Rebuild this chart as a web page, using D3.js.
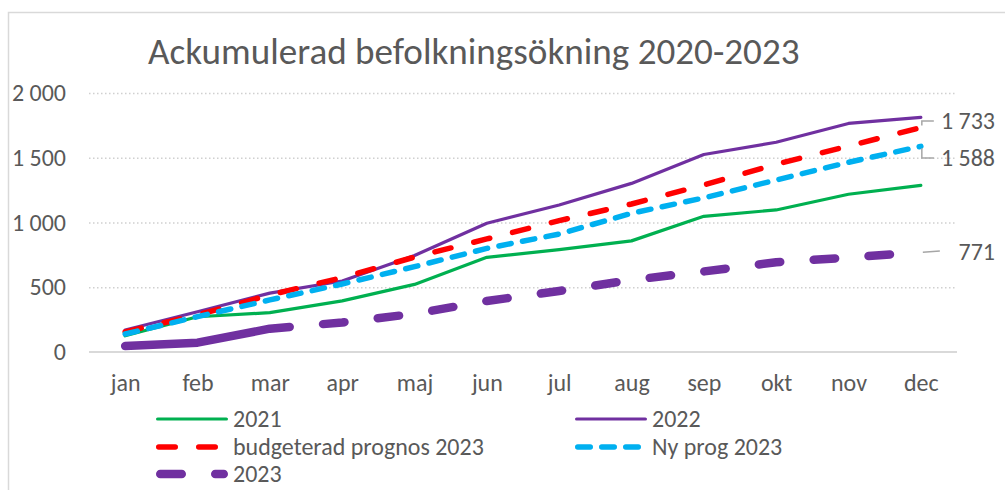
<!DOCTYPE html>
<html>
<head>
<meta charset="utf-8">
<script src="https://cdn.jsdelivr.net/npm/d3@7"></script>
<style>
  html, body { margin: 0; padding: 0; background: #fff; }
  svg { display: block; }
  text { font-family: Carlito, Calibri, Lato, "Open Sans", sans-serif; fill: #595959; }
</style>
</head>
<body>
<svg id="chart" width="1005" height="490"></svg>
<script>
const title = "Ackumulerad befolkningsökning 2020-2023";
const months = ["jan","feb","mar","apr","maj","jun","jul","aug","sep","okt","nov","dec"];
const yTicks = [0, 500, 1000, 1500, 2000];
const seriesNames = ["2021", "2022", "budgeterad prognos 2023", "Ny prog 2023", "2023"];
const s2021   = [125, 272, 304, 395, 522, 731, 790, 858, 1048, 1097, 1218, 1287];
const s2022   = [170, 311, 455, 548, 745, 994, 1135, 1302, 1525, 1620, 1765, 1812];
const sBudget = [155, 286, 440, 574, 733, 873, 1014, 1143, 1290, 1450, 1590, 1733];
const sNyProg = [139, 273, 402, 525, 659, 800, 911, 1071, 1190, 1328, 1465, 1588];
const s2023   = [46, 72, 180, 228, 295, 394, 471, 556, 622, 693, 729, 771];

const locale = d3.formatLocale({decimal: ",", thousands: "\u00a0", grouping: [3], currency: ["", " kr"]});
const fmt = locale.format(",d");

const svg = d3.select("#chart");

// outer frame
svg.append("rect").attr("x", 8.5).attr("y", 12.5).attr("width", 1100).attr("height", 600)
  .attr("fill", "none").attr("stroke", "#d9d9d9").attr("stroke-width", 1.5);

const x = d3.scalePoint().domain(months).range([89, 957]).padding(0.5);
const y = d3.scaleLinear().domain([0, 2000]).range([352, 93]);

// gridlines
const grid = svg.append("g").attr("transform", "translate(89,0)")
  .call(d3.axisLeft(y).tickValues(yTicks.filter(v => v > 0)).tickSize(-868).tickFormat(""));
grid.select(".domain").remove();
grid.selectAll(".tick line").attr("stroke", "#d0d0d0").attr("stroke-width", 1.3).attr("stroke-dasharray", "1.5,2.5");

// y labels
const yAxis = svg.append("g").attr("transform", "translate(66,0)")
  .call(d3.axisLeft(y).tickValues(yTicks).tickSize(0).tickPadding(0).tickFormat(fmt));
yAxis.select(".domain").remove();
yAxis.selectAll("text").attr("class", "lbl").attr("text-anchor", "end");

// x axis line
const xAxis = svg.append("g").attr("transform", `translate(0,${y(0)})`)
  .call(d3.axisBottom(x).tickSize(0).tickPadding(22));
xAxis.select(".domain").attr("d", "M89,0H957").attr("stroke", "#d9d9d9").attr("stroke-width", 2);
xAxis.selectAll("text").attr("class", "lbl");

// series
function dashList(first, dash, gap, n) {
  const arr = [first, gap];
  for (let i = 0; i < n; i++) arr.push(dash, gap);
  return arr.join(",");
}
const series = [
  {name: seriesNames[0], values: s2021, color: "#00b050", width: 3.2, dash: null},
  {name: seriesNames[1], values: s2022, color: "#7030a0", width: 3.2, dash: null},
  {name: seriesNames[2], values: sBudget, color: "#ff0000", width: 5.5, dash: "16.5,23.5"},
  {name: seriesNames[3], values: sNyProg, color: "#00b0f0", width: 5.5, dash: "12.5,11.5"},
  {name: seriesNames[4], values: s2023, color: "#7030a0", width: 8.5, dash: dashList(166, 21.5, 33.5, 30)}
];
const line = d3.line().x((d, i) => x(months[i])).y(d => y(d));
svg.append("g").selectAll("path").data(series).join("path")
  .attr("d", d => line(d.values))
  .attr("fill", "none")
  .attr("stroke", d => d.color)
  .attr("stroke-width", d => d.width)
  .attr("stroke-linecap", "round")
  .attr("stroke-linejoin", "round")
  .attr("stroke-dasharray", d => d.dash);

// data labels on last point
const last = months.length - 1;
const lblG = svg.append("g");
const leaders = [
  {v: sBudget[last], ly: 121, dir: -1},
  {v: sNyProg[last], ly: 158, dir: 1},
  {v: s2023[last], ly: 252, dir: 0}
];
leaders.forEach(l => {
  const px = x(months[last]), py = y(l.v);
  let d;
  if (l.dir === 0) d = `M${px + 2},${py}L${px + 19},${l.ly - 1}`;
  else d = `M${px + 1},${py + (l.dir < 0 ? -2 : 2)}V${l.ly}H${px + 13}`;
  lblG.append("path").attr("d", d).attr("fill", "none").attr("stroke", "#a6a6a6").attr("stroke-width", 1.5);
  lblG.append("text").attr("class", "lbl").attr("x", 995).attr("y", l.ly).attr("dy", "0.35em")
    .attr("text-anchor", "end").text(fmt(l.v));
});

// legend
const legendPos = [
  {x: 156, y: 419}, {x: 575, y: 419},
  {x: 156, y: 447}, {x: 575, y: 447},
  {x: 156, y: 474}
];
const leg = svg.append("g");
series.forEach((s, i) => {
  const p = legendPos[i];
  const g = leg.append("g").attr("transform", `translate(${p.x},${p.y})`);
  const w = s.width;
  g.append("path").attr("d", `M${w / 2},0H${72 - w / 2}`)
    .attr("stroke", s.color).attr("stroke-width", w).attr("stroke-linecap", "round")
    .attr("stroke-dasharray", i === 4 ? "21.5,33.5" : s.dash);
  g.append("text").attr("class", "lbl").attr("x", 77).attr("dy", "0.35em").text(s.name);
});

// title
const t = svg.append("text").attr("x", 148).attr("y", 64).style("font-size", "34px").text(title);

// sizing to match reference text widths
svg.selectAll(".lbl").style("font-size", "20px");
const probe = leg.selectAll("text").filter(function() { return this.textContent === seriesNames[2]; }).node();
const k = 251 / probe.getComputedTextLength();
svg.selectAll(".lbl").style("font-size", (20 * k) + "px");
const tk = 652 / t.node().getComputedTextLength();
t.style("font-size", (34 * tk) + "px");
</script>
</body>
</html>
